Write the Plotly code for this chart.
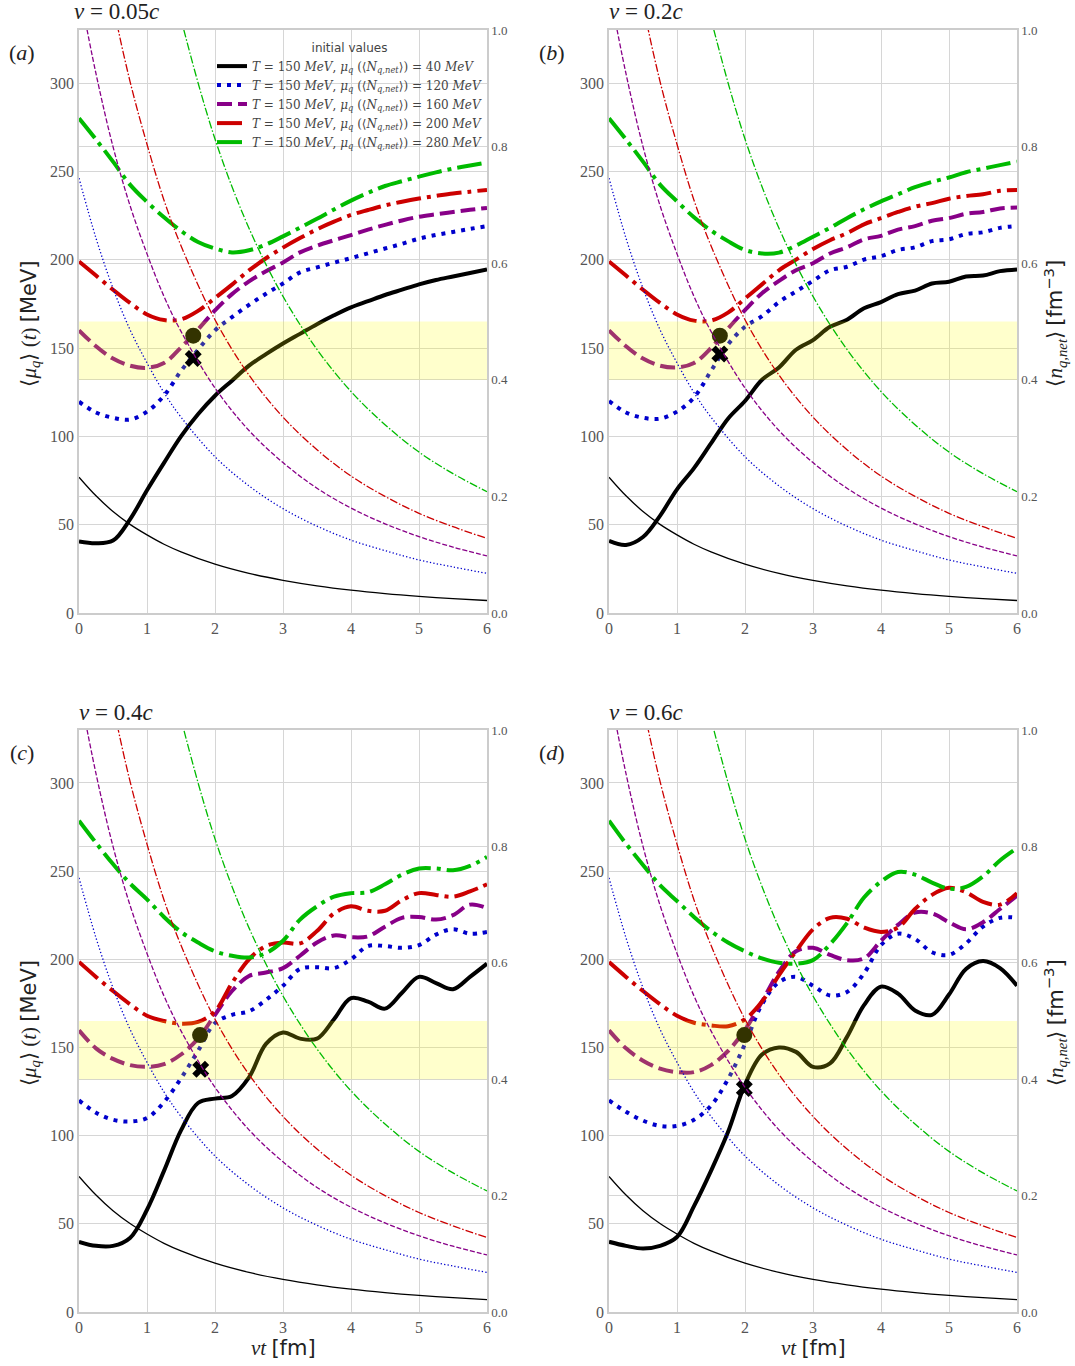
import plotly.graph_objects as go

# time grid for the chemical-potential curves, vt in fm
t_mu = [0, 0.25, 0.5, 0.75, 1, 1.25, 1.5, 1.75, 2, 2.25, 2.5, 2.75, 3,
        3.25, 3.5, 3.75, 4, 4.25, 4.5, 4.75, 5, 5.25, 5.5, 5.75, 6]

# time grid for the net quark densities
t_n = [0, 0.25, 0.5, 0.75, 1, 1.25, 1.5, 2, 2.5, 3, 3.5, 4, 4.5, 5, 5.5, 6]

# <n_q,net> in fm^-3 (right axis), same in every panel
n_40 = [0.233, 0.201, 0.174, 0.152, 0.134, 0.118, 0.105, 0.0838, 0.068, 0.056,
        0.0466, 0.0392, 0.0333, 0.0285, 0.0246, 0.0214]
n_120 = [0.746, 0.643, 0.557, 0.486, 0.429, 0.378, 0.336, 0.268, 0.218, 0.179,
         0.149, 0.125, 0.107, 0.091, 0.079, 0.068]
n_160 = [1.072, 0.925, 0.800, 0.699, 0.616, 0.543, 0.483, 0.386, 0.313, 0.258,
         0.214, 0.180, 0.153, 0.131, 0.113, 0.098]
n_200 = [1.398, 1.206, 1.044, 0.912, 0.804, 0.708, 0.630, 0.503, 0.408, 0.336,
         0.280, 0.235, 0.200, 0.171, 0.148, 0.128]
n_280 = [2.260, 1.950, 1.688, 1.474, 1.300, 1.145, 1.019, 0.813, 0.660, 0.543,
         0.452, 0.380, 0.323, 0.276, 0.239, 0.208]

# <mu_q>(t) in MeV (left axis), panel (a) v = 0.05c
mu_a_40 = [40.5, 39.5, 41, 53, 69.5, 85, 100, 112.5, 123, 131.5, 140, 146.5, 152.5,
           158, 163.5, 168.5, 173, 176.5, 180, 183, 186, 188.5, 190.5, 192.5, 194.5]
mu_a_120 = [119.6, 113.5, 110.5, 109.5, 114, 123, 137, 149, 160, 167.5, 174.4, 180.7, 186.5,
            192.8, 195.6, 198.3, 200.9, 203.6, 206.3, 209, 211.9, 214, 215.7, 217.4, 219]
mu_a_160 = [160, 151, 144, 140, 138.8, 141.5, 150.3, 160.5, 171.3, 180.5, 187.7, 193.4, 198.4,
            204.1, 207.9, 211, 213.9, 217, 219.7, 222.2, 224.3, 225.7, 227, 228.2, 229.3]
mu_a_200 = [199, 191, 183, 175.5, 169, 165.8, 166.2, 171, 178.3, 185.9, 193.9, 200.8, 206.8,
            212.2, 217.2, 221.5, 225.3, 228.1, 230.7, 232.8, 234.6, 236.1, 237.5, 238.5, 239.5]
mu_a_280 = [280, 268, 255.5, 242.5, 232.7, 224, 216.3, 210, 206.3, 204.1, 205.3, 208.6, 213.2,
            218.1, 223.1, 228.4, 233.4, 237.8, 241.7, 244.4, 247, 249.4, 251.6, 253.3, 255]

# panel (b) v = 0.2c
mu_b_40 = [40.8, 38.5, 43, 55, 70, 82, 96, 110, 120, 132, 139, 149, 154.5,
           162, 166, 172.5, 176, 180.5, 182.5, 186.5, 187.5, 190.5, 191, 193.5, 194.5]
mu_b_120 = [120, 113.5, 110.5, 110, 114, 122, 137, 152, 162, 168, 176, 182, 188,
            194, 196, 200, 202, 205.5, 207, 210.5, 211.5, 214.5, 215.5, 218, 219]
mu_b_160 = [160, 151, 144, 140, 139, 141.5, 150, 161, 171.5, 181, 188, 194, 198,
            203.5, 207, 211.5, 213.5, 217, 219, 222, 223.5, 226, 227, 229, 229.5]
mu_b_200 = [199, 191, 183, 175.5, 169, 165.5, 165.5, 170, 178, 186, 194, 200, 206,
            211, 215, 220, 223.5, 227, 230, 232, 234.5, 236, 237, 239, 239.5]
mu_b_280 = [280, 268, 255.5, 242.5, 233, 224, 216.5, 210.5, 205.5, 203.5, 204, 208, 213,
            218, 223.5, 228.5, 233, 237, 241, 244, 246.5, 249.5, 251.5, 253.5, 255.5]

# panel (c) v = 0.4c
mu_c_40 = [39.8, 37.5, 37.5, 42, 58, 80, 103, 118.5, 121, 122.5, 133, 152, 158.5,
           155, 155, 166, 178, 176, 172, 181, 190, 186.5, 183, 190, 197.5]
mu_c_120 = [120, 113, 109, 108, 110, 119, 132.5, 148, 163.8, 168.5, 170.5, 177, 185,
            194.5, 195.5, 195, 200, 207.5, 207.5, 206.5, 208, 214, 217, 214.5, 215.5]
mu_c_160 = [159.7, 149.5, 143.5, 140, 139, 140.5, 146, 155, 168.5, 182, 190.5, 192.5, 195,
            202, 209.5, 213.5, 212.5, 213, 218.5, 223.5, 224, 222.5, 225, 231, 229]
mu_c_200 = [198.5, 190, 182, 174.5, 168, 165, 163.5, 164.5, 170.5, 186.5, 200, 207.5, 209.5,
            209, 216, 226, 230, 227.5, 227.5, 233.5, 237.5, 236.5, 235.5, 238.5, 242.5]
mu_c_280 = [278.6, 266, 254, 243, 234, 224, 215.5, 209.5, 204.5, 202, 201, 203.5, 210.5,
            222.5, 230, 235.5, 237.5, 238, 242.5, 248, 251.5, 251.5, 250.5, 253, 258]

# panel (d) v = 0.6c
mu_d_40 = [39.8, 37.5, 36, 37.5, 42.5, 60, 80, 102, 129, 146, 150, 147.5, 139,
           141, 156, 174, 184.5, 180.5, 171, 168.5, 180, 194.5, 199, 195, 185]
mu_d_120 = [120, 113.5, 108.5, 105.5, 105.5, 109, 117, 132, 152, 174.5, 187, 190, 185,
            179.5, 181.5, 192, 208, 214.5, 211.5, 204, 202.5, 209, 218.5, 223.5, 223.5]
mu_d_160 = [159.7, 149.5, 142.5, 138, 136, 136, 140, 148, 160, 176, 193, 204.5, 206.5,
            202.5, 199.5, 200.5, 210.5, 219.5, 226.5, 226, 221, 217, 221, 228.5, 236]
mu_d_200 = [198.4, 190, 182, 174.5, 168, 164, 162.5, 162, 166, 176, 191, 204.5, 217,
            223.5, 223, 218, 215.5, 218, 228.5, 236.5, 240.5, 238, 232.5, 231, 237.5]
mu_d_280 = [278.6, 265.5, 253.5, 242, 233, 224, 216, 209.5, 204.5, 200.5, 198, 197.5, 199.5,
            208.5, 220.5, 235, 244, 249.5, 248, 243.5, 240, 241, 247, 256, 263]

# marked points per panel: (vt, mu) of the dot and of the cross
dot_t = [1.68, 1.63, 1.78, 1.99]
dot_mu = [157, 157, 157, 157]
cross_t = [1.68, 1.63, 1.79, 1.99]
cross_mu = [144, 146.6, 137.6, 126.7]

# shaded density window, in MeV on the left axis
band_lo, band_hi = 132, 165

panel_titles = ["<i>v</i> = 0.05<i>c</i>", "<i>v</i> = 0.2<i>c</i>",
                "<i>v</i> = 0.4<i>c</i>", "<i>v</i> = 0.6<i>c</i>"]
panel_tags = ["(<i>a</i>)", "(<i>b</i>)", "(<i>c</i>)", "(<i>d</i>)"]
mu0_labels = ["40", "120", "160", "200", "280"]

mu_sets = [
    [mu_a_40, mu_a_120, mu_a_160, mu_a_200, mu_a_280],
    [mu_b_40, mu_b_120, mu_b_160, mu_b_200, mu_b_280],
    [mu_c_40, mu_c_120, mu_c_160, mu_c_200, mu_c_280],
    [mu_d_40, mu_d_120, mu_d_160, mu_d_200, mu_d_280],
]
n_set = [n_40, n_120, n_160, n_200, n_280]

colors = ["#000000", "#0000cc", "#880088", "#cc0000", "#00bb00"]
thick_dash = ["solid", "4px,6px", "15px,6px", "25px,6px,4px,6px", "25px,6px,4px,6px"]
thin_dash = ["solid", "1.3px,2.2px", "5px,2px", "8px,2px,1.5px,2px", "8px,2px,1.5px,2px"]

W, H = 1075, 1366
# plot-area pixel boxes: (left, right, top, bottom)
boxes = [(79, 487, 30, 613), (609, 1017, 30, 613),
         (79, 487, 730, 1312), (609, 1017, 730, 1312)]

serif = "Liberation Serif"
sans = "DejaVu Sans"
grid_c = "#d6d6d6"
line_c = "#cccccc"
tick_c = "#555555"
text_c = "#222222"

fig = go.Figure()
layout = dict(width=W, height=H, margin=dict(l=0, r=0, t=0, b=0, autoexpand=False),
              paper_bgcolor="white", plot_bgcolor="white", showlegend=True)
annotations = []

for i in range(4):
    xa = "x" if i == 0 else f"x{i + 1}"
    ya = "y" if i == 0 else f"y{2 * i + 1}"
    yb = f"y{2 * i + 2}"
    L, R, T, B = boxes[i]
    xdom = [L / W, R / W]
    ydom = [1 - B / H, 1 - T / H]

    ax_common = dict(showgrid=True, gridcolor=grid_c, gridwidth=1.3, showline=True,
                     linecolor=line_c, linewidth=1.5, zeroline=False, ticks="",
                     automargin=False,
                     tickfont=dict(family=serif, size=16, color=tick_c))
    layout["xaxis" if i == 0 else f"xaxis{i + 1}"] = dict(
        ax_common, domain=xdom, range=[0, 6], anchor=ya, mirror=True,
        tickvals=[0, 1, 2, 3, 4, 5, 6])
    layout["yaxis" if i == 0 else f"yaxis{2 * i + 1}"] = dict(
        ax_common, domain=ydom, range=[0, 330], anchor=xa, mirror=True,
        tickvals=[0, 50, 100, 150, 200, 250, 300])
    layout[f"yaxis{2 * i + 2}"] = dict(
        ax_common, range=[0, 1], anchor=xa, overlaying=ya, side="right",
        tickvals=[0, 0.2, 0.4, 0.6, 0.8, 1.0],
        ticktext=["0.0", "0.2", "0.4", "0.6", "0.8", "1.0"],
        tickfont=dict(family=serif, size=13, color=tick_c))

    # thick curves: <mu_q>(t)
    for k in range(5):
        name = (f"<i>T</i> = 150 <i>MeV</i>, <i>μ<sub>q</sub></i> "
                f"(⟨<i>N<sub>q,net</sub></i>⟩) = {mu0_labels[k]} <i>MeV</i>")
        fig.add_trace(go.Scatter(
            x=t_mu, y=mu_sets[i][k], xaxis=xa, yaxis=ya, mode="lines",
            line=dict(color=colors[k], width=4, dash=thick_dash[k], shape="spline"),
            name=name, showlegend=(i == 0), hoverinfo="skip"))

    # dot marker (sits under the shaded window)
    fig.add_trace(go.Scatter(
        x=[dot_t[i]], y=[dot_mu[i]], xaxis=xa, yaxis=ya, mode="markers",
        marker=dict(color="black", size=16, symbol="circle"), showlegend=False,
        hoverinfo="skip"))

    # shaded window
    fig.add_trace(go.Scatter(
        x=[0, 6, 6, 0, 0], y=[band_lo, band_lo, band_hi, band_hi, band_lo],
        xaxis=xa, yaxis=ya, mode="lines", fill="toself",
        fillcolor="rgba(255,255,0,0.2)", line=dict(width=0), showlegend=False,
        hoverinfo="skip"))

    # cross marker
    fig.add_trace(go.Scatter(
        x=[cross_t[i]], y=[cross_mu[i]], xaxis=xa, yaxis=ya, mode="markers",
        marker=dict(color="black", size=15, symbol="x"), showlegend=False,
        hoverinfo="skip"))

    # thin curves: <n_q,net>(t)
    for k in range(5):
        fig.add_trace(go.Scatter(
            x=t_n, y=n_set[k], xaxis=xa, yaxis=yb, mode="lines",
            line=dict(color=colors[k], width=1.3, dash=thin_dash[k], shape="spline"),
            showlegend=False, hoverinfo="skip"))

    # panel title and tag
    annotations.append(dict(text=panel_titles[i], x=(L + 37) / W, y=1 - (T - 18) / H,
                            xref="paper", yref="paper", xanchor="center", yanchor="middle",
                            showarrow=False, font=dict(family=serif, size=23, color=text_c)))
    annotations.append(dict(text=panel_tags[i], x=(L - 57) / W, y=1 - (T + 22) / H,
                            xref="paper", yref="paper", xanchor="center", yanchor="middle",
                            showarrow=False, font=dict(family=serif, size=22, color=text_c)))

    mid_y = 1 - ((T + B) / 2 + 2) / H
    if i in (0, 2):
        annotations.append(dict(
            text=("⟨<i>μ<sub>q</sub></i>⟩ (<i>t</i>) "
                  f"<span style='font-family:{sans}'>[MeV]</span>"),
            x=30 / W, y=mid_y, xref="paper", yref="paper", xanchor="center",
            yanchor="middle", textangle=-90, showarrow=False,
            font=dict(family=serif, size=21, color=text_c)))
    else:
        annotations.append(dict(
            text=("⟨<i>n<sub>q,net</sub></i>⟩ "
                  f"<span style='font-family:{sans}'>[fm<sup>−3</sup>]</span>"),
            x=1055 / W, y=mid_y, xref="paper", yref="paper", xanchor="center",
            yanchor="middle", textangle=-90, showarrow=False,
            font=dict(family=serif, size=21, color=text_c)))
    if i in (2, 3):
        annotations.append(dict(
            text=f"<i>vt</i> <span style='font-family:{sans}'>[fm]</span>",
            x=(L + R) / 2 / W, y=1 - 1348 / H, xref="paper", yref="paper",
            xanchor="center", yanchor="middle", showarrow=False,
            font=dict(family=serif, size=21, color=text_c)))

layout["annotations"] = annotations
layout["legend"] = dict(
    x=212 / W, y=1 - 36 / H, xanchor="left", yanchor="top",
    bgcolor="rgba(0,0,0,0)", borderwidth=0, itemwidth=30, tracegroupgap=0,
    font=dict(family="DejaVu Serif", size=12, color="#444"),
    title=dict(text="initial values", side="top center",
               font=dict(family=sans, size=12, color="#444")))
fig.update_layout(**layout)

fig.write_html("out.html")
